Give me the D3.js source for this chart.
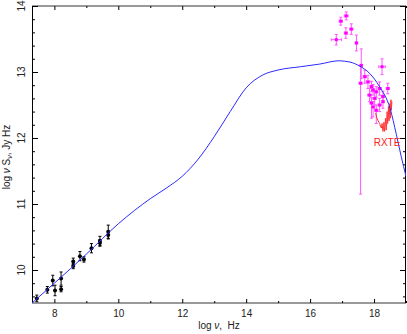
<!DOCTYPE html>
<head>
<meta charset="utf-8">
<title>log nu S_nu spectrum</title>
<style>
  body { margin: 0; background: #fff; }
  text { font-family: "Liberation Sans", Arial, sans-serif; }
</style>
</head>
<body>
<svg width="407" height="334"></svg>
<script src="https://d3js.org/d3.v7.min.js"></script>
<script>

// model curve: [log nu, log nu S_nu]
var modelCurve = [
  [7.3, 9.5], [8.0, 9.80], [9.0, 10.24], [10.0, 10.70], [10.5, 10.90],
  [11.0, 11.08], [11.5, 11.24], [12.0, 11.42], [12.5, 11.68], [13.0, 12.02],
  [13.5, 12.40], [14.0, 12.76], [14.5, 12.95], [15.0, 13.03], [15.7, 13.08],
  [16.3, 13.12], [16.9, 13.17], [17.25, 13.15], [17.55, 13.09], [17.86, 12.98],
  [18.17, 12.78], [18.5, 12.45], [18.7, 12.05], [18.85, 11.72], [19.0, 11.42]
];

// radio points: [log nu, value, error]
var radioPts = [
  [7.45, 9.57, 0.05], [7.78, 9.70, 0.05], [7.95, 9.84, 0.08], [8.02, 9.69, 0.08],
  [8.21, 9.87, 0.10], [8.21, 9.71, 0.04], [8.59, 10.13, 0.05], [8.59, 10.06, 0.04],
  [8.80, 10.21, 0.07], [8.925, 10.16, 0.04], [9.16, 10.33, 0.07], [9.425, 10.44, 0.07],
  [9.425, 10.41, 0.05], [9.685, 10.58, 0.10], [9.685, 10.53, 0.06]
];

// magenta points: [log nu, value, err down, err up, err x]
var xrayPts = [
  [16.96, 13.77, 0.06, 0.06, 0.05], [17.13, 13.85, 0.06, 0.06, 0.06],
  [16.82, 13.49, 0.08, 0.08, 0.16], [17.12, 13.59, 0.08, 0.08, 0.05],
  [17.29, 13.65, 0.08, 0.08, 0.05], [17.45, 13.44, 0.12, 0.12, 0.04],
  [17.60, 13.10, 0.20, 0.25, 0.04], [17.58, 12.83, 1.68, 0.27, 0.05],
  [18.25, 13.08, 0.12, 0.12, 0.10], [17.71, 12.93, 0.10, 0.10, 0.05],
  [17.81, 12.85, 0.10, 0.10, 0.05], [17.92, 12.78, 0.08, 0.08, 0.05],
  [17.97, 12.73, 0.08, 0.08, 0.05], [18.07, 12.70, 0.08, 0.08, 0.05],
  [17.86, 12.65, 0.10, 0.10, 0.06], [18.175, 12.75, 0.10, 0.10, 0.05],
  [18.43, 12.75, 0.08, 0.08, 0.05], [18.02, 12.60, 0.10, 0.10, 0.05],
  [17.92, 12.53, 0.23, 0.08, 0.05], [18.28, 12.63, 0.08, 0.08, 0.05],
  [18.175, 12.50, 0.10, 0.10, 0.05], [17.97, 12.47, 0.15, 0.08, 0.05],
  [18.28, 12.55, 0.10, 0.08, 0.04], [18.07, 12.42, 0.20, 0.08, 0.05]
];

// RXTE spectrum
var rxteNu = [18.05, 18.09, 18.12, 18.15, 18.175, 18.2, 18.23, 18.25, 18.28, 18.3,
  18.31, 18.33, 18.34, 18.36, 18.38, 18.39, 18.41, 18.425, 18.44, 18.45, 18.47,
  18.48, 18.49, 18.51, 18.53, 18.54, 18.56];
var rxteVal = [12.38, 12.30, 12.27, 12.24, 12.22, 12.18, 12.15, 12.22, 12.10, 12.18,
  12.24, 12.10, 12.16, 12.30, 12.12, 12.18, 12.40, 12.22, 12.30, 12.48, 12.26,
  12.34, 12.52, 12.30, 12.58, 12.42, 12.55];

var xMajor = [8, 10, 12, 14, 16, 18];
var xMinor = [9, 11, 13, 15, 17, 19];
var yMajor = [10, 11, 12, 13, 14];

var svg = d3.select("svg");

var x = d3.scaleLinear().domain([7.3, 19]).range([32, 406]);
var y = d3.scaleLinear().domain([9.5, 14]).range([303, 6]);

svg.append("rect").attr("width", 407).attr("height", 334).attr("fill", "#fff");

svg.append("clipPath").attr("id", "clip")
  .append("rect").attr("x", 32).attr("y", 6).attr("width", 374).attr("height", 297);

var yMinor = d3.range(48, 70).map(function(d) { return d / 5; })
  .filter(function(d) { return Math.abs(d - Math.round(d)) > 0.01; });

// frame: grey top/bottom, black left/right
svg.append("line").attr("x1", 32).attr("x2", 406).attr("y1", 303).attr("y2", 303)
  .attr("stroke", "#999").attr("stroke-width", 2);
svg.append("line").attr("x1", 32).attr("x2", 406).attr("y1", 6).attr("y2", 6)
  .attr("stroke", "#999").attr("stroke-width", 2);
svg.append("line").attr("x1", 32.5).attr("x2", 32.5).attr("y1", 6).attr("y2", 303)
  .attr("stroke", "#000");
svg.append("line").attr("x1", 405.5).attr("x2", 405.5).attr("y1", 6).attr("y2", 303)
  .attr("stroke", "#000");

function tickAxis(axis, tr) {
  var g = svg.append("g").attr("transform", tr).call(axis);
  g.select(".domain").remove();
  g.selectAll("line").attr("stroke", "#000");
  return g;
}

// bottom
var xb = tickAxis(d3.axisBottom(x).tickValues(xMajor).tickSize(-4).tickPadding(7), "translate(0,303)");
xb.selectAll("text").attr("font-size", 10).attr("fill", "#222")
  .attr("font-family", "Liberation Sans, Arial, sans-serif");
tickAxis(d3.axisBottom(x).tickValues(xMinor).tickSize(-2).tickFormat(""), "translate(0,303)");
// top
tickAxis(d3.axisTop(x).tickValues(xMajor).tickSize(-4).tickFormat(""), "translate(0,6)");
tickAxis(d3.axisTop(x).tickValues(xMinor).tickSize(-2).tickFormat(""), "translate(0,6)");
// left
tickAxis(d3.axisLeft(y).tickValues(yMajor).tickSize(-6).tickFormat(""), "translate(32,0)");
tickAxis(d3.axisLeft(y).tickValues(yMinor).tickSize(-3).tickFormat(""), "translate(32,0)");
// right
tickAxis(d3.axisRight(y).tickValues(yMajor).tickSize(-6).tickFormat(""), "translate(406,0)");
tickAxis(d3.axisRight(y).tickValues(yMinor).tickSize(-3).tickFormat(""), "translate(406,0)");

// rotated y tick labels
svg.append("g").selectAll("text").data(yMajor).enter().append("text")
  .attr("transform", function(d) { return "translate(25," + y(d) + ") rotate(-90)"; })
  .attr("text-anchor", "middle").attr("font-size", 10).attr("fill", "#222")
  .text(function(d) { return d; });

// axis titles
svg.append("text").attr("x", 219).attr("y", 328.5).attr("text-anchor", "middle")
  .attr("font-size", 10).attr("fill", "#222")
  .html("log <tspan font-style='italic'>\u03bd</tspan>,&#160;&#160;Hz");

var yt = svg.append("text").attr("transform", "translate(10,157) rotate(-90)")
  .attr("text-anchor", "middle").attr("font-size", 10).attr("fill", "#222");
yt.append("tspan").text("log ");
yt.append("tspan").attr("font-style", "italic").text("\u03bd");
yt.append("tspan").text(" S");
yt.append("tspan").attr("font-size", 7).attr("dy", 2).attr("font-style", "italic").text("\u03bd");
yt.append("tspan").attr("dy", -2).text(",  Jy Hz");

var plot = svg.append("g").attr("clip-path", "url(#clip)");

// radio error bars and points
var rg = plot.append("g").attr("stroke", "#000").attr("stroke-width", 1);
radioPts.forEach(function(p) {
  var cx = x(p[0]);
  rg.append("line").attr("x1", cx).attr("x2", cx).attr("y1", y(p[1] - p[2])).attr("y2", y(p[1] + p[2]));
  rg.append("line").attr("x1", cx - 1.5).attr("x2", cx + 1.5).attr("y1", y(p[1] - p[2])).attr("y2", y(p[1] - p[2]));
  rg.append("line").attr("x1", cx - 1.5).attr("x2", cx + 1.5).attr("y1", y(p[1] + p[2])).attr("y2", y(p[1] + p[2]));
});
plot.append("g").selectAll("circle").data(radioPts).enter().append("circle")
  .attr("cx", function(d) { return x(d[0]); })
  .attr("cy", function(d) { return y(d[1]); })
  .attr("r", 2).attr("fill", "#000");

// x-ray error bars
var mg = plot.append("g").attr("stroke", "#ff55ff").attr("stroke-width", 1);
xrayPts.forEach(function(p) {
  var cx = x(p[0]), cy = y(p[1]);
  var lo = y(p[1] - p[2]), hi = y(p[1] + p[3]);
  mg.append("line").attr("x1", cx).attr("x2", cx).attr("y1", lo).attr("y2", hi);
  mg.append("line").attr("x1", cx - 1.5).attr("x2", cx + 1.5).attr("y1", lo).attr("y2", lo);
  mg.append("line").attr("x1", cx - 1.5).attr("x2", cx + 1.5).attr("y1", hi).attr("y2", hi);
  var l = x(p[0] - p[4]), r = x(p[0] + p[4]);
  mg.append("line").attr("x1", l).attr("x2", r).attr("y1", cy).attr("y2", cy);
  mg.append("line").attr("x1", l).attr("x2", l).attr("y1", cy - 1.5).attr("y2", cy + 1.5);
  mg.append("line").attr("x1", r).attr("x2", r).attr("y1", cy - 1.5).attr("y2", cy + 1.5);
});
plot.append("g").selectAll("rect").data(xrayPts).enter().append("rect")
  .attr("x", function(d) { return x(d[0]) - 1.5; })
  .attr("y", function(d) { return y(d[1]) - 1.5; })
  .attr("width", 3).attr("height", 3).attr("fill", "#ff00ff");

// RXTE
var rxte = rxteNu.map(function(d, i) { return [d, rxteVal[i]]; });
plot.append("path").datum(rxte)
  .attr("fill", "none").attr("stroke", "#ff3333").attr("stroke-width", 1)
  .attr("d", d3.line().x(function(d) { return x(d[0]); }).y(function(d) { return y(d[1]); }));

svg.append("text").attr("x", 387).attr("y", 146).attr("text-anchor", "middle")
  .attr("font-size", 10).attr("fill", "#ff2020").text("RXTE");

// model
plot.append("path").datum(modelCurve)
  .attr("fill", "none").attr("stroke", "#2a2aff").attr("stroke-width", 1)
  .attr("d", d3.line().curve(d3.curveMonotoneX)
    .x(function(d) { return x(d[0]); }).y(function(d) { return y(d[1]); }));

</script>
</body>
